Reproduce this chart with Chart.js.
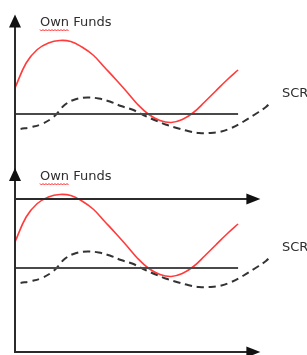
<!DOCTYPE html>
<html>
<head>
<meta charset="utf-8">
<script src="https://cdn.jsdelivr.net/npm/chart.js@4"></script>
<style>
  body { margin: 0; background: #fff; }
  .panel { position: absolute; left: 0; }
</style>
</head>
<body>
<canvas id="chart-top" class="panel" width="307" height="175" style="top:0"></canvas>
<canvas id="chart-bottom" class="panel" width="307" height="201" style="top:154px"></canvas>
<script>
// time axis (arbitrary units) and levels relative to the grey reference line
var ownFundsT = [0, 0.5, 1, 1.5, 2, 2.5, 3, 3.5, 4, 4.5, 5, 5.5, 6, 6.5, 7, 7.5, 8, 8.5, 9, 9.5, 10];
var ownFundsLevel = [2.6, 5.1, 6.45, 7.1, 7.35, 7.25, 6.7, 5.9, 4.7, 3.5, 2.25, 0.95, -0.05, -0.65, -0.85, -0.55, 0.15, 1.2, 2.3, 3.4, 4.4];

var scrT = [0.25, 0.75, 1.25, 1.75, 2.25, 2.75, 3.25, 3.75, 4.25, 4.75, 5.25, 5.75, 6.25, 6.75, 7.25, 7.75, 8.25, 8.75, 9.25, 9.75, 10.25, 10.75, 11.25, 11.5];
var scrLevel = [-1.5, -1.3, -0.95, -0.25, 0.95, 1.5, 1.65, 1.55, 1.25, 0.8, 0.45, -0.1, -0.6, -1.05, -1.4, -1.7, -1.9, -1.9, -1.75, -1.35, -0.75, -0.05, 0.7, 1.3];

var thresholdT = [0, 10];
var thresholdLevel = [0, 0];

var seriesLabels = ['Own Funds', 'SCR'];

function toPoints(ts, vs) {
  return ts.map(function (t, i) { return { x: t, y: vs[i] }; });
}

function upArrow(ctx, x, tipY) {
  ctx.beginPath();
  ctx.moveTo(x, tipY);
  ctx.lineTo(x - 6, tipY + 13);
  ctx.lineTo(x + 6, tipY + 13);
  ctx.closePath();
  ctx.fill();
}

function rightArrow(ctx, tipX, y) {
  ctx.beginPath();
  ctx.moveTo(tipX, y);
  ctx.lineTo(tipX - 14, y - 5.5);
  ctx.lineTo(tipX - 14, y + 5.5);
  ctx.closePath();
  ctx.fill();
}

var decorPlugin = {
  id: 'decor',
  afterDraw: function (chart, args, opts) {
    var ctx = chart.ctx, xs = chart.scales.x, ys = chart.scales.y;
    var x0 = xs.getPixelForValue(0);
    ctx.save();
    ctx.strokeStyle = '#2b2b2b';
    ctx.fillStyle = '#111';
    ctx.lineWidth = 2;

    // vertical axis with arrow
    var tipY = ys.getPixelForValue(opts.axisTop);
    var endY = opts.xAxisLevel != null ? ys.getPixelForValue(opts.xAxisLevel) : chart.chartArea.bottom;
    ctx.beginPath();
    ctx.moveTo(x0, tipY + 6);
    ctx.lineTo(x0, endY);
    ctx.stroke();
    upArrow(ctx, x0, tipY);

    // horizontal arrows
    var tipX = xs.getPixelForValue(opts.arrowEnd);
    opts.hArrows.forEach(function (lv) {
      var yy = ys.getPixelForValue(lv);
      ctx.beginPath();
      ctx.moveTo(x0 - 1, yy);
      ctx.lineTo(tipX - 8, yy);
      ctx.stroke();
      rightArrow(ctx, tipX, yy);
    });

    // labels
    ctx.font = '13px "DejaVu Sans"';
    ctx.textBaseline = 'middle';
    ctx.textAlign = 'left';
    ctx.fillStyle = '#2e2e2e';
    var lx = xs.getPixelForValue(opts.ownFundsLabel[0]);
    var ly = ys.getPixelForValue(opts.ownFundsLabel[1]);
    ctx.fillText(seriesLabels[0], lx, ly);
    ctx.fillText(seriesLabels[1], xs.getPixelForValue(opts.scrLabel[0]), ys.getPixelForValue(opts.scrLabel[1]));

    // spell-check squiggle under "Own"
    var w = ctx.measureText('Own').width;
    ctx.strokeStyle = '#ff2020';
    ctx.lineWidth = 1;
    ctx.beginPath();
    for (var i = 0; i <= w; i += 1.5) {
      var yy2 = ly + 7 + ((Math.round(i / 1.5) % 2) ? 1 : -0.5);
      if (i === 0) ctx.moveTo(lx + i, yy2); else ctx.lineTo(lx + i, yy2);
    }
    ctx.stroke();
    ctx.restore();
  }
};

function makePanel(id, yMin, decor) {
  return new Chart(document.getElementById(id), {
    type: 'line',
    data: {
      datasets: [
        {
          label: 'threshold',
          data: toPoints(thresholdT, thresholdLevel),
          borderColor: '#4a4a4a',
          borderWidth: 2,
          pointRadius: 0
        },
        {
          label: seriesLabels[1],
          data: toPoints(scrT, scrLevel),
          borderColor: '#333',
          borderWidth: 2,
          borderDash: [7, 5],
          pointRadius: 0,
          tension: 0.4
        },
        {
          label: seriesLabels[0],
          data: toPoints(ownFundsT, ownFundsLevel),
          borderColor: '#ff3b3b',
          borderWidth: 1.6,
          pointRadius: 0,
          tension: 0.4
        }
      ]
    },
    options: {
      responsive: false,
      animation: false,
      layout: { padding: { left: 15, right: 2, top: 0, bottom: 0 } },
      scales: {
        x: { type: 'linear', min: 0, max: 13, display: false },
        y: { min: yMin, max: 11.4, display: false }
      },
      plugins: {
        legend: { display: false },
        tooltip: { enabled: false },
        decor: decor
      }
    },
    plugins: [decorPlugin]
  });
}

makePanel('chart-top', -6.1, {
  axisTop: 9.95, xAxisLevel: null, arrowEnd: 11, hArrows: [],
  ownFundsLabel: [1.12, 9.1], scrLabel: [11.97, 2.0]
});
makePanel('chart-bottom', -8.7, {
  axisTop: 10.0, xAxisLevel: -8.4, arrowEnd: 11, hArrows: [6.9, -8.4],
  ownFundsLabel: [1.12, 9.1], scrLabel: [11.97, 2.0]
});
</script>
</body>
</html>
